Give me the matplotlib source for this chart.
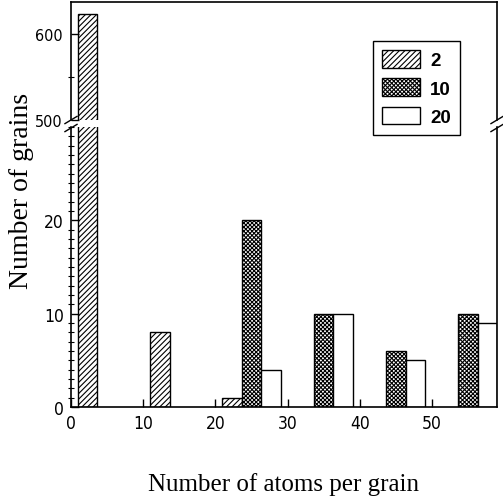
import numpy as np
import matplotlib
matplotlib.use("Agg")
import matplotlib.pyplot as plt

# ---- data ----
bin_centers = [5, 15, 25, 35, 45, 55]
series_labels = ["2", "10", "20"]
counts_2 = [623, 8, 1, 0, 0, 0]
counts_10 = [0, 0, 20, 10, 6, 10]
counts_20 = [0, 0, 4, 10, 5, 9]
x_ticks = [0, 10, 20, 30, 40, 50]
y_ticks_low = [0, 10, 20]
y_ticks_high = [500, 600]

plt.rcParams['hatch.linewidth'] = 0.8
tick_family = ['DejaVu Sans']
label_family = ['Liberation Serif', 'DejaVu Serif']

fig = plt.figure(figsize=(5.03, 5.02), dpi=100)
L, R = 71 / 503, 497 / 503
def fy(p):
    return 1 - p / 502
ax_lo = fig.add_axes([L, fy(408), R - L, fy(128) - fy(408)])
ax_hi = fig.add_axes([L, fy(121), R - L, fy(3) - fy(121)])

w = 2.7
offsets = [-w, 0, w]
hatches = ['//////', 'xxxxxxxx', None]
series = [counts_2, counts_10, counts_20]
handles = []
for ax in (ax_lo, ax_hi):
    for k, (vals, h) in enumerate(zip(series, hatches)):
        xs = np.array(bin_centers) + offsets[k]
        vals = np.array(vals, dtype=float)
        mask = vals > 0
        b = ax.bar(xs[mask], vals[mask], width=w, color='white', edgecolor='black',
                   linewidth=1.0, hatch=h, label=series_labels[k])
        if ax is ax_lo:
            handles.append(b)

for ax in (ax_lo, ax_hi):
    ax.set_xlim(0, 59)
    for s in ax.spines.values():
        s.set_linewidth(1.2)

ax_lo.set_ylim(0, 30)
ax_hi.set_ylim(500, 637)

ax_lo.spines['top'].set_visible(False)
ax_hi.spines['bottom'].set_visible(False)

ax_lo.set_xticks(x_ticks)
ax_lo.set_yticks(y_ticks_low)
ax_lo.set_yticks(np.arange(0, 31, 1), minor=True)
ax_lo.tick_params(axis='both', which='major', direction='in', length=6, width=1.0,
                  labelsize=12.5, pad=5)
ax_lo.tick_params(axis='y', which='minor', direction='inout', length=4, width=0.8)
ax_lo.tick_params(axis='x', which='minor', bottom=False)

ax_hi.set_xticks([])
ax_hi.set_yticks(y_ticks_high)
ax_hi.set_yticks([550], minor=True)
ax_hi.tick_params(axis='y', which='major', direction='in', length=6, width=1.0,
                  labelsize=11.5, pad=6)
ax_hi.tick_params(axis='y', which='minor', direction='inout', length=4, width=0.8)

for ax in (ax_lo, ax_hi):
    for t in ax.get_xticklabels() + ax.get_yticklabels():
        t.set_family(tick_family)
        t.set_stretch('condensed')

# break marks
d = 0.012
kw = dict(color='black', linewidth=1.0, clip_on=False, transform=fig.transFigure)
for xc in (L, R):
    for yc in (fy(121), fy(129)):
        fig.add_artist(plt.Line2D([xc - d, xc + d], [yc - d * 0.6, yc + d * 0.6], **kw))

fig.text(284 / 503, fy(491), 'Number of atoms per grain', ha='center', va='baseline',
         fontsize=18, family=label_family)
fig.text(22 / 503, fy(191), 'Number of grains', ha='center', va='center', rotation=90,
         fontsize=20, family=label_family)

leg = fig.legend(handles=handles, labels=series_labels, loc='upper left',
                 bbox_to_anchor=(373 / 503, fy(42)), borderaxespad=0,
                 prop=dict(family=['Liberation Sans', 'DejaVu Sans'], weight='bold', size=13.5),
                 handlelength=2.0, handleheight=1.05, labelspacing=0.48,
                 handletextpad=0.55, borderpad=0.5, fancybox=False, framealpha=1,
                 edgecolor='black')
leg.get_frame().set_linewidth(1.0)

fig.savefig('out.png', dpi=100)
